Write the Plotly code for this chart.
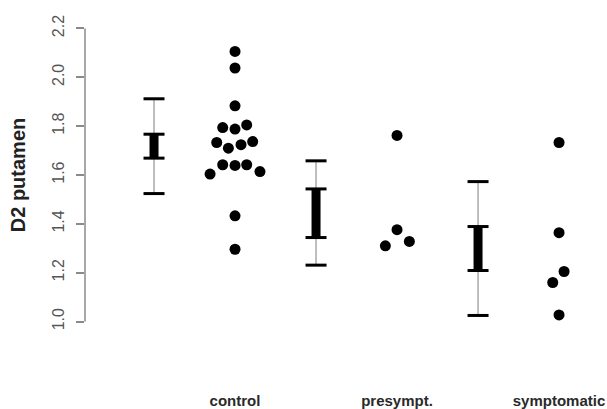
import plotly.graph_objects as go

# D2 receptor binding in the putamen by group
categories = ["control", "presympt.", "symptomatic"]

control = [2.106, 2.038, 1.883, 1.794, 1.788, 1.805, 1.733, 1.710, 1.724, 1.737,
           1.642, 1.639, 1.642, 1.604, 1.614, 1.433, 1.296]
control_jitter = [0, 0, 0, -0.076, 0, 0.072, -0.113, -0.041, 0.037, 0.109,
                  -0.076, 0, 0.072, -0.154, 0.154, 0, 0]

presympt = [1.762, 1.376, 1.310, 1.328]
presympt_jitter = [0, 0, -0.072, 0.076]

symptomatic = [1.733, 1.364, 1.205, 1.160, 1.027]
symptomatic_jitter = [0, 0, 0.031, -0.039, 0]

# summary bars per group: mean +/- SD (thin) and inner interval (thick)
sd_low = [1.524, 1.231, 1.025]
sd_high = [1.912, 1.658, 1.573]
se_low = [1.669, 1.344, 1.209]
se_high = [1.767, 1.543, 1.389]

y_ticks = [1.0, 1.2, 1.4, 1.6, 1.8, 2.0, 2.2]

groups = [(control, control_jitter), (presympt, presympt_jitter),
          (symptomatic, symptomatic_jitter)]

fig = go.Figure()

for i, (vals, jit) in enumerate(groups):
    pos = i + 1
    bx = pos - 0.5
    # thin SD line
    fig.add_trace(go.Scatter(
        x=[bx, bx], y=[sd_low[i], sd_high[i]], mode="lines",
        line=dict(color="#a8a8a8", width=1.5), hoverinfo="skip"))
    # thick inner interval
    fig.add_trace(go.Scatter(
        x=[bx, bx], y=[se_low[i], se_high[i]], mode="lines",
        line=dict(color="black", width=9), hoverinfo="skip"))
    # caps
    fig.add_trace(go.Scatter(
        x=[bx] * 4, y=[sd_low[i], sd_high[i], se_low[i], se_high[i]],
        mode="markers",
        marker=dict(symbol="line-ew", size=15,
                    line=dict(color="black", width=3)),
        hoverinfo="skip"))
    # individual subjects
    fig.add_trace(go.Scatter(
        x=[pos + j for j in jit], y=vals, mode="markers",
        marker=dict(color="black", size=11, line=dict(width=0))))

# R-style y axis line spanning only the tick range
fig.add_shape(type="line", xref="paper", yref="y", x0=0, x1=0,
              y0=y_ticks[0], y1=y_ticks[-1],
              line=dict(color="#8a8a8a", width=1.5))

fig.update_layout(
    width=607, height=409,
    margin=dict(l=85, r=0, t=4, b=63),
    plot_bgcolor="white", paper_bgcolor="white",
    showlegend=False,
    font=dict(family="Liberation Sans, Arial, sans-serif"),
    xaxis=dict(
        range=[0.074, 3.296], showgrid=False, zeroline=False, showline=False,
        tickmode="array", tickvals=[1, 2, 3], ticktext=categories,
        ticks="", ticklabelstandoff=44,
        tickfont=dict(size=15, color="#2a2a2a", weight="bold"),
    ),
    yaxis=dict(
        range=[0.9, 2.3], showgrid=False, zeroline=False, showline=False,
        tickmode="array", tickvals=y_ticks,
        ticktext=[f"{v:.1f}" for v in y_ticks],
        ticks="outside", ticklen=8, tickwidth=1.5, tickcolor="#8a8a8a",
        tickangle=-90, ticklabelstandoff=6,
        tickfont=dict(size=16, color="#555555"),
        title=dict(text="D2 putamen", standoff=18,
                   font=dict(size=20, color="#222222", weight="bold")),
    ),
)

fig.write_html("out.html")
